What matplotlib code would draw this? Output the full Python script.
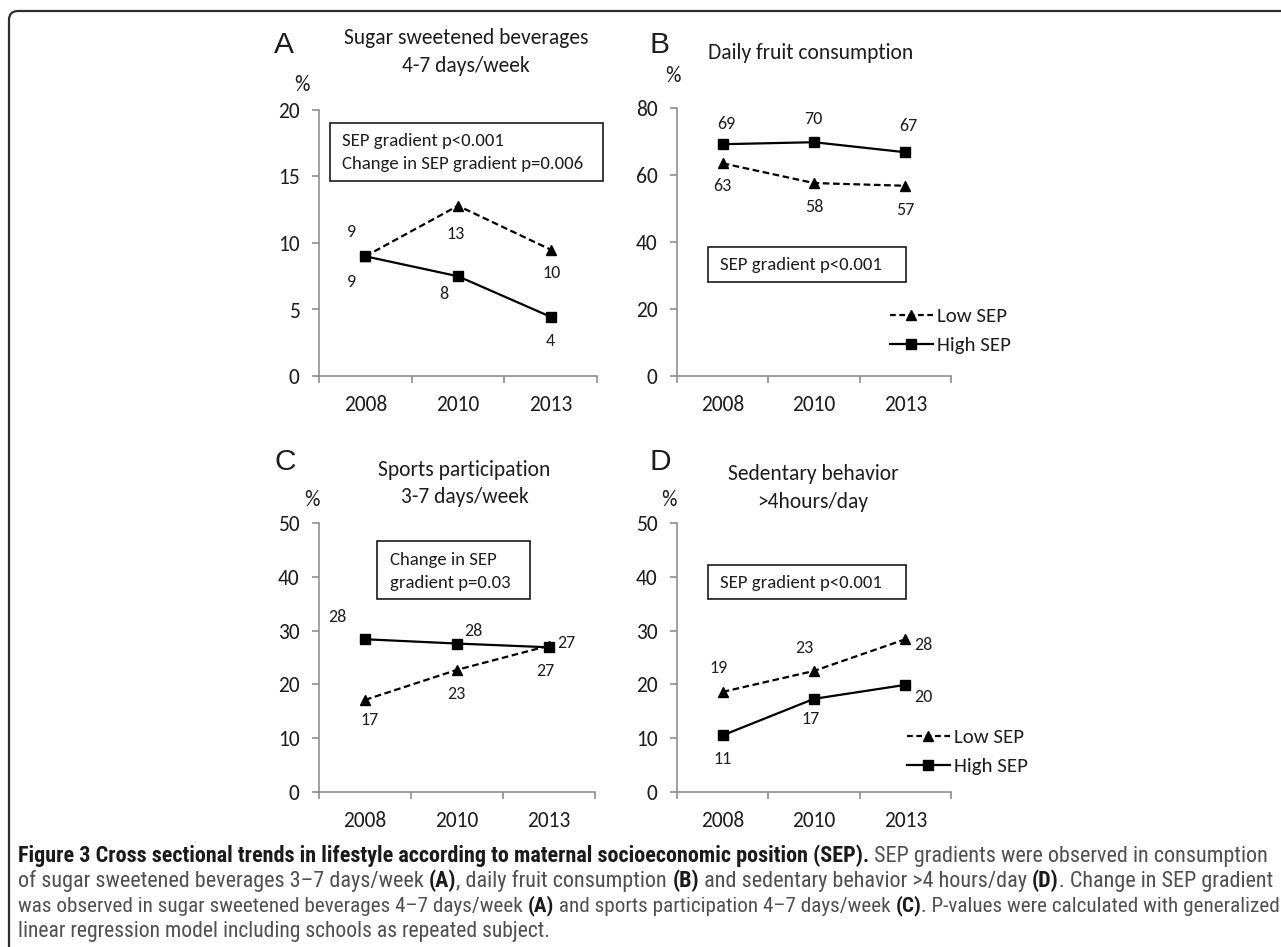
import matplotlib
matplotlib.use('Agg')
import matplotlib.pyplot as plt
import numpy as np
import os
from matplotlib.lines import Line2D
from matplotlib.patches import Rectangle, PathPatch
from matplotlib.path import Path
from matplotlib import font_manager
from matplotlib.font_manager import FontProperties

# ---------------- data ----------------
years = ['2008', '2010', '2013']

sugar_low = [9.0, 12.8, 9.5]
sugar_high = [9.0, 7.5, 4.45]
sugar_low_labels = ['9', '13', '10']
sugar_high_labels = ['9', '8', '4']

fruit_low = [63.4, 57.5, 56.7]
fruit_high = [69.1, 69.7, 66.7]
fruit_low_labels = ['63', '58', '57']
fruit_high_labels = ['69', '70', '67']

sports_low = [17.1, 22.7, 27.2]
sports_high = [28.4, 27.6, 26.9]
sports_low_labels = ['17', '23', '27']
sports_high_labels = ['28', '28', '27']

sed_low = [18.6, 22.5, 28.4]
sed_high = [10.5, 17.3, 19.9]
sed_low_labels = ['19', '23', '28']
sed_high_labels = ['11', '17', '20']

series_names = ['Low SEP', 'High SEP']

# ---------------- fonts ----------------
names = {f.name for f in font_manager.fontManager.ttflist}
chart_font = 'Carlito' if 'Carlito' in names else 'Open Sans'
plt.rcParams['font.family'] = [chart_font, 'DejaVu Sans']

# condensed font for the caption, if one is installed
files = {os.path.basename(f.fname): f.fname for f in font_manager.fontManager.ttflist}
cap_reg, cap_bold = None, None
for reg, bold in [('LiberationSansNarrow-Regular.ttf', 'LiberationSansNarrow-Bold.ttf'),
                  ('RobotoCondensed-Regular.ttf', 'RobotoCondensed-Bold.ttf'),
                  ('OpenSans_Condensed-Regular.ttf', 'OpenSans_Condensed-Bold.ttf'),
                  ('NotoSans-Condensed.ttf', 'NotoSans-CondensedBold.ttf'),
                  ('DejaVuSansCondensed.ttf', 'DejaVuSansCondensed-Bold.ttf')]:
    if reg in files and bold in files:
        cap_reg, cap_bold = files[reg], files[bold]
        break

def cap_props(size, bold):
    if cap_reg is not None:
        return FontProperties(fname=cap_bold if bold else cap_reg, size=size)
    return FontProperties(family=['Roboto', 'DejaVu Sans'], size=size,
                          weight='bold' if bold else 'normal')

W, H = 1281, 947
fig = plt.figure(figsize=(W / 100, H / 100), dpi=100)
fig.patch.set_facecolor('white')

def fx(x):
    return x / W

def fy(y):
    return 1 - y / H

AXC = '#868686'
TXT = '#1e1e1e'
TICK_FS = 15.5
LAB_FS = 13
BOX_FS = 13.5
TITLE_FS = 15.5
LEG_FS = 15

def make_axes(left, top, right, bottom, ymax, step):
    ax = fig.add_axes([fx(left), fy(bottom), (right - left) / W, (bottom - top) / H])
    ax.set_xlim(-0.5, 2.5)
    ax.set_ylim(0, ymax)
    for s in ['top', 'right']:
        ax.spines[s].set_visible(False)
    for s in ['left', 'bottom']:
        ax.spines[s].set_color(AXC)
        ax.spines[s].set_linewidth(1.1)
    ax.set_yticks(np.arange(0, ymax + 0.1, step))
    ax.set_yticklabels([str(int(v)) for v in np.arange(0, ymax + 0.1, step)])
    ax.tick_params(axis='y', direction='out', length=5, width=1.1, color=AXC,
                   pad=9, labelsize=TICK_FS, labelcolor=TXT)
    ax.set_xticks([0, 1, 2])
    ax.set_xticklabels(years)
    ax.tick_params(axis='x', which='major', length=0, pad=14, labelsize=TICK_FS, labelcolor=TXT)
    ax.set_xticks([-0.5, 0.5, 1.5, 2.5], minor=True)
    ax.tick_params(axis='x', which='minor', direction='out', length=5, width=1.1, color=AXC)
    ax.patch.set_alpha(0)
    return ax

def draw_series(ax, low, high, low_labels, high_labels, low_off, high_off):
    x = np.arange(len(years))
    ax.plot(x, low, color='black', lw=1.6, ls=(0, (3.0, 1.6)), marker='^', ms=7,
            clip_on=False, zorder=3)
    ax.plot(x, high, color='black', lw=1.6, ls='-', marker='s', ms=7.5,
            clip_on=False, zorder=4)
    for xi, v, lab, off in zip(x, low, low_labels, low_off):
        ax.annotate(lab, (xi, v), xytext=(off[0], -off[1]), textcoords='offset pixels',
                    ha='center', va='center', fontsize=LAB_FS, color=TXT)
    for xi, v, lab, off in zip(x, high, high_labels, high_off):
        ax.annotate(lab, (xi, v), xytext=(off[0], -off[1]), textcoords='offset pixels',
                    ha='center', va='center', fontsize=LAB_FS, color=TXT)

def add_box(x0, y0, x1, y1, lines, tx, tys, size=BOX_FS):
    fig.patches.append(Rectangle((fx(x0), fy(y1)), (x1 - x0) / W, (y1 - y0) / H,
                                 transform=fig.transFigure, fill=True, facecolor='white',
                                 edgecolor='#1a1a1a', lw=1.2, zorder=5))
    for line, ty in zip(lines, tys):
        fig.text(fx(tx), fy(ty), line, ha='left', va='center', fontsize=size, color=TXT, zorder=6)

def add_legend(ax, x, yc):
    h = [Line2D([], [], color='black', lw=1.6, ls=(0, (2.6, 1.6)), marker='^', ms=7),
         Line2D([], [], color='black', lw=1.6, ls='-', marker='s', ms=7.5)]
    ax.legend(h, series_names, loc='center left', bbox_to_anchor=(fx(x), fy(yc)),
              bbox_transform=fig.transFigure, frameon=False, fontsize=LEG_FS,
              handlelength=2.05, handletextpad=0.2, labelspacing=0.55,
              borderaxespad=0, borderpad=0, numpoints=1, labelcolor=TXT)

def letter(x, y, s):
    fig.text(fx(x), fy(y), s, ha='left', va='center', fontsize=21.5, color=TXT,
             family=['Liberation Sans', 'DejaVu Sans'])

def label(x, y, s, ha='center', size=TITLE_FS):
    fig.text(fx(x), fy(y), s, ha=ha, va='center', fontsize=size, color=TXT)

# ---------------- Panel A ----------------
axA = make_axes(319, 110, 597, 376, 20, 5)
draw_series(axA, sugar_low, sugar_high, sugar_low_labels, sugar_high_labels,
            [(-14, -24), (-2, 28), (1, 23)], [(-14, 26), (-14, 18), (0, 24)])
letter(274, 45, 'A')
label(466, 38, 'Sugar sweetened beverages')
label(466, 66, '4-7 days/week')
label(302, 85, '%')
add_box(330, 123, 603, 181, ['SEP gradient p<0.001', 'Change in SEP gradient p=0.006'],
        341.5, [141, 164])

# ---------------- Panel B ----------------
axB = make_axes(677, 107.7, 951, 375.7, 80, 20)
draw_series(axB, fruit_low, fruit_high, fruit_low_labels, fruit_high_labels,
            [(0, 23), (0, 24), (0, 24)], [(4, -20), (-1, -23), (3, -26)])
letter(649, 45, 'B')
label(708, 53, 'Daily fruit consumption', ha='left')
label(673, 76, '%')
add_box(708, 247, 906, 282, ['SEP gradient p<0.001'], 720, [265])
add_legend(axB, 890, 331)

# ---------------- Panel C ----------------
axC = make_axes(319, 523.3, 595, 791.7, 50, 10)
draw_series(axC, sports_low, sports_high, sports_low_labels, sports_high_labels,
            [(5, 20), (-1, 24), (17, -3)], [(-28, -22), (16, -13), (-4, 24)])
letter(274, 462, 'C')
label(464, 470, 'Sports participation')
label(465, 497, '3-7 days/week')
label(312, 500, '%')
add_box(377, 541, 530, 599, ['Change in SEP', 'gradient p=0.03'], 389.5, [559.5, 582.5])

# ---------------- Panel D ----------------
axD = make_axes(677, 523.3, 951, 791.7, 50, 10)
draw_series(axD, sed_low, sed_high, sed_low_labels, sed_high_labels,
            [(-4, -24), (-10, -23), (18, 6)], [(0, 24), (-3, 20), (18, 12)])
letter(649, 462, 'D')
label(813, 474, 'Sedentary behavior')
label(813, 502, '>4hours/day')
label(669, 500, '%')
add_box(708, 565, 906, 599, ['SEP gradient p<0.001'], 720, [582.5])
add_legend(axD, 907, 752)

# ---------------- frame ----------------
r = 9
verts = [(fx(9), fy(947)), (fx(9), fy(11 + r)), (fx(9), fy(11)), (fx(9 + r), fy(11)), (fx(W), fy(11))]
codes = [Path.MOVETO, Path.LINETO, Path.CURVE3, Path.CURVE3, Path.LINETO]
fig.patches.append(PathPatch(Path(verts, codes), transform=fig.transFigure, fill=False,
                             edgecolor='#2e2e2e', lw=1.6))

# ---------------- caption ----------------
renderer = fig.canvas.get_renderer()
BOLD_C = '#1a1a1a'
NORM_C = '#505050'

def seg_width(s, size, bold):
    t1 = fig.text(0, 0, s + '|', fontproperties=cap_props(size, bold))
    w1 = t1.get_window_extent(renderer).width
    t1.remove()
    t2 = fig.text(0, 0, '|', fontproperties=cap_props(size, bold))
    w2 = t2.get_window_extent(renderer).width
    t2.remove()
    return w1 - w2

def draw_caption_line(segs, y, size, x0=18):
    x = x0
    for s, bold in segs:
        fig.text(fx(x), fy(y), s, ha='left', va='center', fontproperties=cap_props(size, bold),
                 color=BOLD_C if bold else NORM_C)
        x += seg_width(s, size, bold)

def fit_size(segs, target, x0=18, base=10.0):
    w = sum(seg_width(s, base, b) for s, b in segs)
    return base * (target - x0) / w

cap1 = [('Figure 3 Cross sectional trends in lifestyle according to maternal socioeconomic position (SEP).', True),
        (' SEP gradients were observed in consumption', False)]
cap2 = [('of sugar sweetened beverages 3\u20137 days/week ', False), ('(A)', True),
        (', daily fruit consumption ', False), ('(B)', True),
        (' and sedentary behavior >4 hours/day ', False), ('(D)', True),
        ('. Change in SEP gradient', False)]
cap3 = [('was observed in sugar sweetened beverages 4\u20137 days/week ', False), ('(A)', True),
        (' and sports participation 4\u20137 days/week ', False), ('(C)', True),
        ('. P-values were calculated with generalized', False)]
cap4 = [('linear regression model including schools as repeated subject.', False)]

s1 = fit_size(cap1, 1264)
s2 = fit_size(cap2, 1264)
s3 = fit_size(cap3, 1267)
s4 = (s2 + s3) / 2
draw_caption_line(cap1, 856, s1)
draw_caption_line(cap2, 881, s2)
draw_caption_line(cap3, 906, s3)
draw_caption_line(cap4, 931, s4)

fig.savefig('out.png', dpi=100, facecolor='white')
